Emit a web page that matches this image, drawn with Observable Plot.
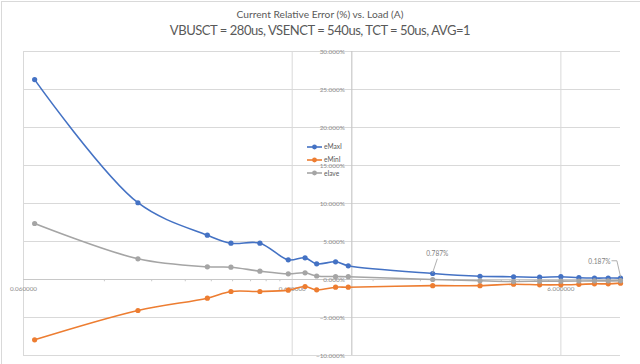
<!DOCTYPE html>
<html><head><meta charset="utf-8">
<script src="https://cdn.jsdelivr.net/npm/d3@7"></script>
<script src="https://cdn.jsdelivr.net/npm/@observablehq/plot@0.6"></script>
<style>
body{margin:0;background:#fff;}
#wrap{position:relative;width:640px;height:364px;overflow:hidden;font-family:Lato,"Open Sans",sans-serif;background:#fff;}
#frame{position:absolute;left:1px;top:1px;width:700px;height:400px;border-left:1px solid #d9d9d9;border-top:1px solid #d9d9d9;pointer-events:none;}
.t1{position:absolute;left:0;width:640px;text-align:center;color:#595959;white-space:nowrap;line-height:1;}
#legend{position:absolute;left:307px;top:140px;font-size:6.6px;color:#595959;line-height:13.3px;}
#legend div{display:flex;align-items:center;height:13.3px;}
#legend svg{margin-right:2px;}
svg.plot{position:absolute;left:0;top:0;}
</style></head><body><div id="wrap"></div>
<script>
// ---- data ----
const load  = [0.066, 0.16, 0.29, 0.355, 0.455, 0.58, 0.67, 0.74, 0.87, 0.97, 2, 3, 4, 5, 6, 7, 8, 9, 10];
const eMaxI = [26.3, 10.1, 5.83, 4.78, 4.78, 2.59, 2.85, 2.06, 2.33, 1.80, 0.787, 0.43, 0.36, 0.30, 0.37, 0.24, 0.19, 0.19, 0.187];
const eMinI = [-7.94, -4.08, -2.46, -1.58, -1.58, -1.40, -0.92, -1.36, -1.01, -1.01, -0.81, -0.81, -0.62, -0.70, -0.70, -0.64, -0.57, -0.57, -0.48];
const eIave = [7.37, 2.72, 1.67, 1.62, 1.10, 0.75, 0.88, 0.46, 0.39, 0.37, 0.0, -0.17, -0.26, -0.22, -0.22, -0.20, -0.18, -0.18, -0.15];
const seriesNames  = ["eMaxI", "eMinI", "eIave"];
const seriesValues = [eMaxI, eMinI, eIave];
const seriesColors = ["#4472C4", "#ED7D31", "#A5A5A5"];
const yTicks = [-10, -5, 0, 5, 10, 15, 20, 25, 30];
const xTicks = [0.06, 0.6, 6];
const xMinor = [0.12,0.18,0.24,0.30,0.36,0.42,0.48,0.54,1.2,1.8,2.4,3.0,3.6,4.2,4.8,5.4];
const titleText = "Current Relative Error (%) vs. Load (A)";
const subtitleText = "VBUSCT = 280us, VSENCT = 540us, TCT = 50us, AVG=1";
const labelPoints = [{series: 0, index: 10}, {series: 0, index: 18}];

// ---- build ----
const rows = [];
seriesNames.forEach((s, si) => load.forEach((x, i) => rows.push({series: s, x, y: seriesValues[si][i]})));
const W = 640, H = 364, mT = 51, mB = 9, mL = 23, mR = 20;
const fmtY = d => d3.format(".3f")(d) + "%";
const fmtX = d => d3.format(".6f")(d);

function makePlot(extra) {
  return Plot.plot({
    width: W, height: H,
    marginTop: mT, marginBottom: mB, marginLeft: mL, marginRight: mR,
    style: {background: "transparent", fontFamily: "Lato, sans-serif"},
    x: {type: "log", domain: [0.06, 10], axis: null},
    y: {domain: [-10, 30], axis: null},
    color: {domain: seriesNames, range: seriesColors},
    marks: [
      Plot.ruleY(yTicks, {stroke: "#d9d9d9", strokeWidth: 1.2}),
      Plot.ruleX(xTicks, {stroke: "#d9d9d9", strokeWidth: 1}),
      Plot.ruleX([1], {stroke: "#c8c8c8", strokeWidth: 1.2}),
      Plot.ruleY([0], {stroke: "#c8c8c8", strokeWidth: 1.2}),
      Plot.ruleX(xMinor, {y1: 0, y2: -0.3, stroke: "#c8c8c8", strokeWidth: 1}),
      Plot.text(yTicks, {x: () => 1, y: d => d, text: fmtY, textAnchor: "end", dx: -7, fontSize: 6.4, fill: "#8c8c8c"}),
      Plot.text(xTicks, {x: d => d, y: () => 0, text: fmtX, dy: 9, fontSize: 6.3, fill: "#8c8c8c"}),
      Plot.line(rows, {x: "x", y: "y", z: "series", stroke: "series", strokeWidth: 1.6, curve: "catmull-rom"}),
      Plot.dot(rows, {x: "x", y: "y", fill: "series", r: 2.6}),
      ...extra
    ]
  });
}

const p0 = makePlot([]);
let sx = p0.scale("x"), sy = p0.scale("y");
const fx = (sx && sx.apply && sx.invert) ? sx : {apply: d3.scaleLog([0.06,10],[mL,W-mR]), invert: d3.scaleLog([0.06,10],[mL,W-mR]).invert};
const fy = (sy && sy.apply && sy.invert) ? sy : {apply: d3.scaleLinear([-10,30],[H-mB,mT]), invert: d3.scaleLinear([-10,30],[H-mB,mT]).invert};

// leader-line offsets in pixels from the labelled point
const leaderOffsets = [[[0,-1],[4.5,-14.4]], [[0,-1.6],[-3.6,-17.3],[-8.6,-17.3]]];
const labelOffsets = [{dx: 4.6, dy: -20, anchor: "middle"}, {dx: -10, dy: -16.3, anchor: "end"}];
const leaders = [], labels = [];
labelPoints.forEach((lp, k) => {
  const x = load[lp.index], y = seriesValues[lp.series][lp.index];
  const px = fx.apply(x), py = fy.apply(y);
  leaderOffsets[k].forEach(([ox, oy]) => leaders.push({k, x: fx.invert(px + ox), y: fy.invert(py + oy)}));
  labels.push({x, y, text: fmtY(y), ...labelOffsets[k]});
});

const plot = makePlot([
  Plot.line(leaders, {x: "x", y: "y", z: "k", stroke: "#a6a6a6", strokeWidth: 0.9}),
  Plot.text(labels.filter(d => d.anchor === "middle"), {x: "x", y: "y", text: "text", dx: labelOffsets[0].dx, dy: labelOffsets[0].dy, textAnchor: "middle", fontSize: 6.6, fill: "#7f7f7f"}),
  Plot.text(labels.filter(d => d.anchor === "end"), {x: "x", y: "y", text: "text", dx: labelOffsets[1].dx, dy: labelOffsets[1].dy, textAnchor: "end", fontSize: 6.6, fill: "#7f7f7f"})
]);
plot.classList.add("plot");

const wrap = document.getElementById("wrap");
wrap.appendChild(plot);
const frame = document.createElement("div"); frame.id = "frame"; wrap.appendChild(frame);

const t1 = document.createElement("div"); t1.className = "t1"; t1.textContent = titleText;
t1.style.top = "9px"; t1.style.fontSize = "10.2px"; wrap.appendChild(t1);
const t2 = document.createElement("div"); t2.className = "t1"; t2.textContent = subtitleText;
t2.style.top = "23.5px"; t2.style.fontSize = "13px"; t2.style.letterSpacing = "-0.45px"; wrap.appendChild(t2);

const legend = document.createElement("div"); legend.id = "legend";
seriesNames.forEach((s, i) => {
  const row = document.createElement("div");
  row.innerHTML = `<svg width="15" height="6"><line x1="0" x2="15" y1="3" y2="3" stroke="${seriesColors[i]}" stroke-width="1.6"/><circle cx="7.5" cy="3" r="2.4" fill="${seriesColors[i]}"/></svg><span>${s}</span>`;
  legend.appendChild(row);
});
wrap.appendChild(legend);
</script></body></html>
